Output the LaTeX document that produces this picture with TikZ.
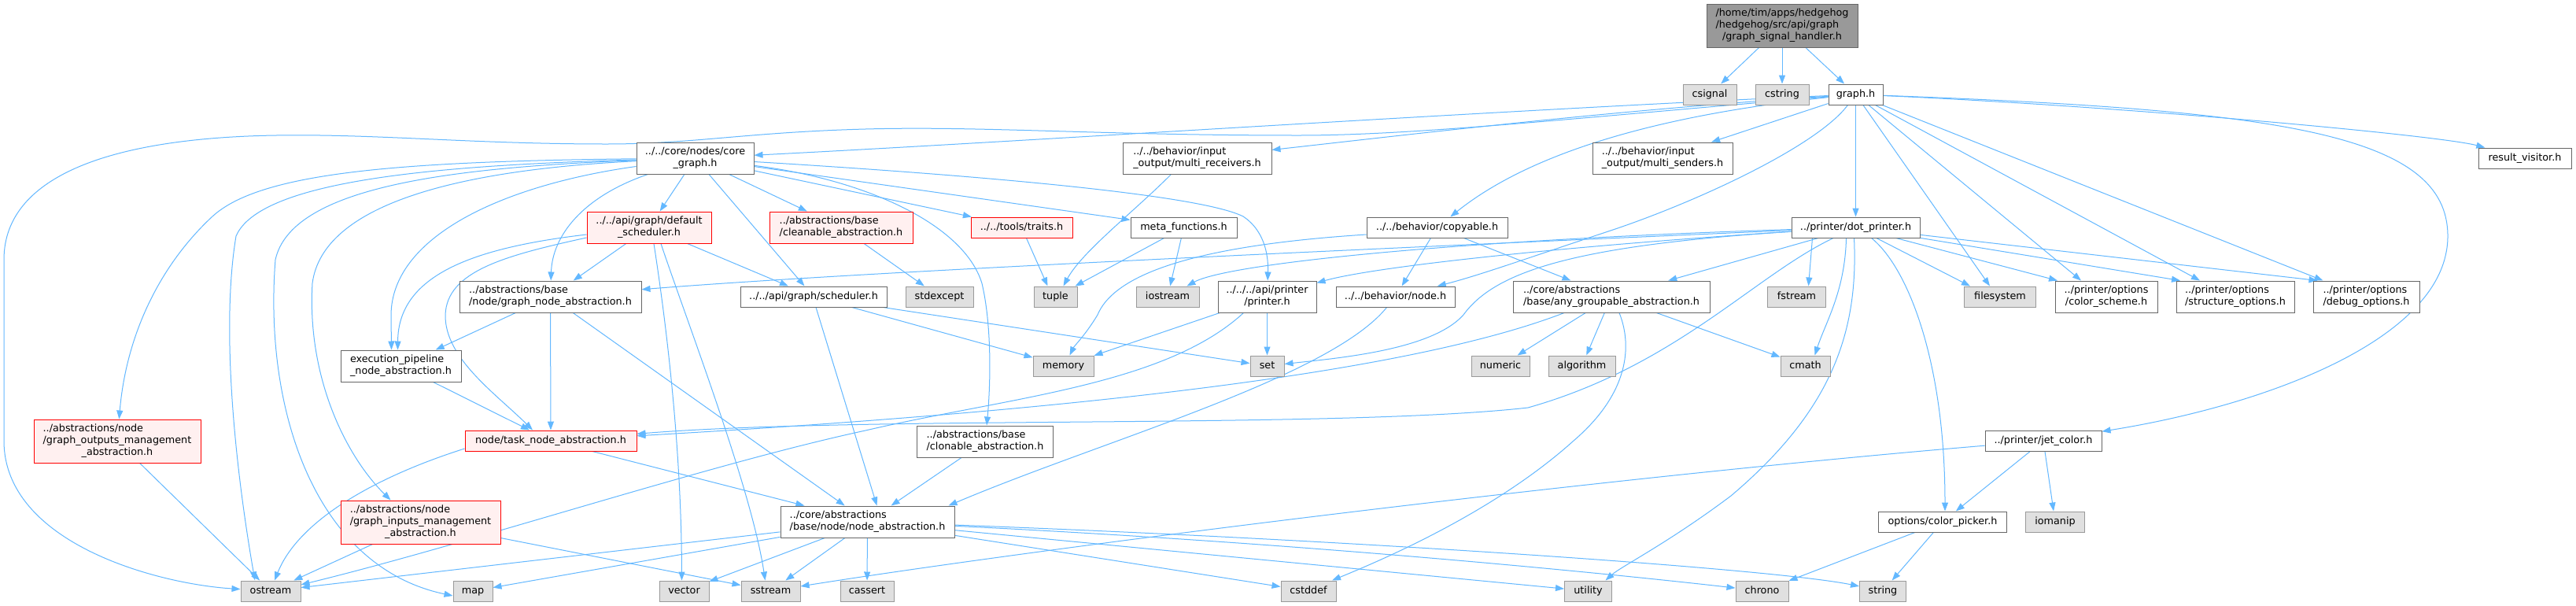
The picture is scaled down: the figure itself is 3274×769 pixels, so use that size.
\documentclass[tikz,border=0pt]{standalone}
\usepackage{fontspec}
\setmainfont{DejaVu Sans}
\usetikzlibrary{arrows.meta}
\pgfdeclarelayer{edgelayer}
\pgfsetlayers{edgelayer,main}
\definecolor{edgec}{HTML}{63B8FF}
\definecolor{greyforty}{HTML}{666666}
\definecolor{greysixty}{HTML}{999999}
\definecolor{greyfill}{HTML}{E0E0E0}
\definecolor{redc}{HTML}{FF0000}
\definecolor{redfill}{HTML}{FFF0F0}
\definecolor{topfill}{HTML}{999999}
\newcommand\labA[1]{\begin{tabular}{@{}c@{}}#1\end{tabular}}
\newcommand\labB[2]{\begin{tabular}{@{}l@{}}#1\\\multicolumn{1}{@{}c@{}}{#2}\end{tabular}}
\newcommand\labC[3]{\begin{tabular}{@{}l@{}}#1\\#2\\\multicolumn{1}{@{}c@{}}{#3}\end{tabular}}
\tikzset{
  nb/.style={draw, rectangle, inner sep=0pt, line width=1pt, font=\fontsize{12.76}{15}\selectfont, text=black},
  wbox/.style={nb, draw=greyforty, fill=white},
  gbox/.style={nb, draw=greysixty, fill=greyfill, minimum height=26pt},
  rbox/.style={nb, draw=redc, fill=redfill},
  topbox/.style={nb, draw=greyforty, fill=topfill},
  hone/.style={minimum height=26pt},
  htwo/.style={minimum height=40pt},
  hthree/.style={minimum height=55pt},
  wd/.style={minimum width=#1pt},
  arr/.style={draw=edgec, line width=1pt, -{Triangle[length=11pt,width=8pt]}}
}
\begin{document}
\begin{tikzpicture}[x=1pt,y=-1pt]
\useasboundingbox (0,0) rectangle (3274,769);
% nodes
\node[topbox,hthree,wd=192] (top) at (2265,32.5) {\labC{/home/tim/apps/hedgehog}{/hedgehog/src/api/graph}{/graph\_signal\_handler.h}};
\node[gbox,wd=68] (csignal) at (2173,120) {\labA{csignal}};
\node[gbox,wd=68] (cstring) at (2265,120) {\labA{cstring}};
\node[wbox,hone,wd=69] (gh) at (2358.5,120) {\labA{graph.h}};
\node[wbox,htwo,wd=149] (core) at (883.5,201) {\labB{../../core/nodes/core}{\_graph.h}};
\node[wbox,htwo,wd=189] (mrecv) at (1521.5,201) {\labB{../../behavior/input}{\_output/multi\_receivers.h}};
\node[wbox,htwo,wd=178] (msend) at (2113,201) {\labB{../../behavior/input}{\_output/multi\_senders.h}};
\node[wbox,hone,wd=118] (rv) at (3209,201) {\labA{result\_visitor.h}};
\node[rbox,htwo,wd=158] (dsched) at (825,289) {\labB{../../api/graph/default}{\_scheduler.h}};
\node[rbox,htwo,wd=182] (clean) at (1069,289) {\labB{../abstractions/base}{/cleanable\_abstraction.h}};
\node[rbox,hone,wd=129] (traits) at (1298.5,289) {\labA{../../tools/traits.h}};
\node[wbox,hone,wd=135] (meta) at (1504.5,289) {\labA{meta\_functions.h}};
\node[wbox,hone,wd=179] (copy) at (1826.5,289) {\labA{../../behavior/copyable.h}};
\node[wbox,hone,wd=163] (dot) at (2358.5,289) {\labA{../printer/dot\_printer.h}};
\node[wbox,htwo,wd=231] (gnode) at (699.5,377) {\labB{../abstractions/base}{/node/graph\_node\_abstraction.h}};
\node[wbox,hone,wd=186] (sched) at (1034,377) {\labA{../../api/graph/scheduler.h}};
\node[gbox,wd=86] (stdexcept) at (1194,377) {\labA{stdexcept}};
\node[gbox,wd=55] (tuple) at (1341.5,377) {\labA{tuple}};
\node[gbox,wd=80] (iostream) at (1484,377) {\labA{iostream}};
\node[wbox,htwo,wd=125] (printer) at (1610.5,377) {\labB{../../../api/printer}{/printer.h}};
\node[wbox,hone,wd=151] (bnode) at (1773.5,377) {\labA{../../behavior/node.h}};
\node[wbox,htwo,wd=250] (anyg) at (2048,377) {\labB{../core/abstractions}{/base/any\_groupable\_abstraction.h}};
\node[gbox,wd=74] (fstream) at (2283.5,377) {\labA{fstream}};
\node[gbox,wd=91] (fs) at (2542,377) {\labA{filesystem}};
\node[wbox,htwo,wd=130] (cs) at (2677,377) {\labB{../printer/options}{/color\_scheme.h}};
\node[wbox,htwo,wd=150] (struct) at (2841,377) {\labB{../printer/options}{/structure\_options.h}};
\node[wbox,htwo,wd=135] (debug) at (3007.5,377) {\labB{../printer/options}{/debug\_options.h}};
\node[wbox,htwo,wd=153] (exec) at (509.5,465) {\labB{execution\_pipeline}{\_node\_abstraction.h}};
\node[gbox,wd=77] (memory) at (1351.5,465) {\labA{memory}};
\node[gbox,wd=43] (set) at (1610.5,465) {\labA{set}};
\node[gbox,wd=74] (numeric) at (1907,465) {\labA{numeric}};
\node[gbox,wd=85] (algorithm) at (2010.5,465) {\labA{algorithm}};
\node[gbox,wd=63] (cmath) at (2294.5,465) {\labA{cmath}};
\node[rbox,hthree,wd=212] (gout) at (149,560.5) {\labC{../abstractions/node}{/graph\_outputs\_management}{\_abstraction.h}};
\node[rbox,hone,wd=218] (task) at (700,560) {\labA{node/task\_node\_abstraction.h}};
\node[wbox,htwo,wd=173] (clon) at (1252,561) {\labB{../abstractions/base}{/clonable\_abstraction.h}};
\node[wbox,hone,wd=148] (jet) at (2597,560) {\labA{../printer/jet\_color.h}};
\node[rbox,hthree,wd=203] (ginp) at (534.5,663.5) {\labC{../abstractions/node}{/graph\_inputs\_management}{\_abstraction.h}};
\node[wbox,htwo,wd=221] (nabs) at (1102.5,663) {\labB{../core/abstractions}{/base/node/node\_abstraction.h}};
\node[wbox,hone,wd=163] (cpick) at (2469,663) {\labA{options/color\_picker.h}};
\node[gbox,wd=75] (iomanip) at (2612,663) {\labA{iomanip}};
\node[gbox,wd=76] (ostream) at (344,751) {\labA{ostream}};
\node[gbox,wd=50] (map) at (601,751) {\labA{map}};
\node[gbox,wd=63] (vector) at (869.5,751) {\labA{vector}};
\node[gbox,wd=75] (sstream) at (979.5,751) {\labA{sstream}};
\node[gbox,wd=68] (cassert) at (1102,751) {\labA{cassert}};
\node[gbox,wd=70] (cstddef) at (1663,751) {\labA{cstddef}};
\node[gbox,wd=60] (utility) at (2018.5,751) {\labA{utility}};
\node[gbox,wd=67] (chrono) at (2239.5,751) {\labA{chrono}};
\node[gbox,wd=59] (string) at (2393,751) {\labA{string}};
% edges
\begin{pgfonlayer}{edgelayer}
\fill[white] (0,0) rectangle (3274,769);
\draw[arr] (top) -- (csignal);
\draw[arr] (top) -- (cstring);
\draw[arr] (top) -- (gh);
% graph.h
\draw[arr] (gh) .. controls (2000,150) and (1800,172) .. (1650,172) .. controls (1400,172) and (1250,160) .. (1100,164) .. controls (950,168) and (880,183) .. (771,183) .. controls (600,183) and (480,170) .. (351,172) .. controls (150,175) and (5,220) .. (5,330) -- (5,560) .. controls (5,690) and (200,742) .. (ostream);
\draw[arr] (gh) .. controls (1900,140) and (1300,180) .. (core);
\draw[arr] (gh) .. controls (2050,140) and (1800,170) .. (mrecv);
\draw[arr] (gh) -- (msend);
\draw[arr] (gh) .. controls (2700,135) and (3100,172) .. (rv);
\draw[arr] (gh) .. controls (2900,140) and (3111,170) .. (3111,300) .. controls (3111,430) and (2880,515) .. (jet);
\draw[arr] (gh) -- (dot);
\draw[arr] (gh) -- ([xshift=-13pt]fs.north);
\draw[arr] (gh) -- ([xshift=-32pt]cs.north);
\draw[arr] (gh) -- ([xshift=-45pt]struct.north);
\draw[arr] (gh) -- ([xshift=-55pt]debug.north);
\draw[arr] (gh) .. controls (2120,145) and (1950,190) .. (copy);
\draw[arr] (gh) .. controls (2310,185) and (2160,255) .. (2050,292) .. controls (1950,325) and (1880,350) .. (bnode);
% core graph
\draw[arr] (core) .. controls (500,205) and (330,220) .. (270,275) .. controls (200,340) and (160,430) .. (gout);
\draw[arr] (core) .. controls (550,210) and (330,230) .. (300,300) .. controls (280,420) and (300,600) .. ([xshift=-20pt]ostream.north);
\draw[arr] (core) .. controls (560,213) and (370,240) .. (350,330) .. controls (335,520) and (400,720) .. ([yshift=-6pt]map.west);
\draw[arr] (core) .. controls (580,216) and (410,260) .. (397,360) .. controls (390,480) and (440,580) .. ([xshift=-38pt]ginp.north);
\draw[arr] (core) .. controls (640,235) and (498,300) .. (497,400) -- ([xshift=-12pt]exec.north);
\draw[arr] (core) .. controls (740,250) and (702,300) .. (gnode);
\draw[arr] (core) -- (dsched);
\draw[arr] (core) -- (sched);
\draw[arr] (core) -- (clean);
\draw[arr] (core) .. controls (1200,220) and (1520,245) .. (1580,275) .. controls (1610,295) and (1612,330) .. (printer);
\draw[arr] (core) .. controls (1100,228) and (1225,285) .. (1248,360) .. controls (1262,420) and (1258,500) .. (clon);
\draw[arr] (core) -- (traits);
\draw[arr] (core) -- (meta);
% default scheduler
\draw[arr] (dsched) -- (gnode);
\draw[arr] (dsched) -- (sched);
\draw[arr] ([xshift=6pt]dsched.south) .. controls (845,400) and (866,560) .. ([xshift=-3pt]vector.north);
\draw[arr] ([xshift=15pt]dsched.south) .. controls (870,400) and (955,620) .. ([xshift=-7pt]sstream.north);
\draw[arr] ([yshift=-9pt]dsched.west) .. controls (600,315) and (506,350) .. ([xshift=-4pt]exec.north);
\draw[arr] ([yshift=-13pt]dsched.west) .. controls (640,325) and (568,345) .. (566,400) .. controls (565,455) and (630,500) .. ([xshift=-23pt]task.north);
% misc
\draw[arr] (clean) -- (stdexcept);
\draw[arr] (traits) -- ([xshift=-10pt]tuple.north);
\draw[arr] (meta) -- (tuple);
\draw[arr] ([xshift=-33pt]mrecv.south) .. controls (1440,270) and (1375,320) .. ([xshift=10pt]tuple.north);
\draw[arr] (meta) -- (iostream);
\draw[arr] ([yshift=-9pt]copy.west) .. controls (1550,310) and (1420,340) .. (1395,400) .. controls (1380,425) and (1365,440) .. ([xshift=8pt]memory.north);
\draw[arr] (copy) -- (bnode);
\draw[arr] (copy) -- (anyg);
% dot printer
\draw[arr] (dot) .. controls (1700,318) and (1100,345) .. (gnode);
\draw[arr] (dot) .. controls (1850,305) and (1560,335) .. (iostream);
\draw[arr] (dot) .. controls (2000,312) and (1750,338) .. (printer);
\draw[arr] (dot) .. controls (2000,312) and (1900,345) .. (1860,400) .. controls (1820,445) and (1700,455) .. (set);
\draw[arr] (dot) -- (anyg);
\draw[arr] (dot) .. controls (2230,350) and (2130,465) .. (1942,518) .. controls (1700,545) and (1100,528) .. (task);
\draw[arr] ([xshift=-55pt]dot.south) -- ([xshift=15pt]fstream.north);
\draw[arr] (dot) -- ([xshift=-38pt]fs.north);
\draw[arr] (dot) -- ([xshift=-62pt]cs.north);
\draw[arr] (dot) -- ([xshift=-70pt]struct.north);
\draw[arr] (dot) -- ([xshift=-62pt]debug.north);
\draw[arr] ([xshift=-12pt]dot.south) .. controls (2345,370) and (2320,410) .. ([xshift=12pt]cmath.north);
\draw[arr] ([xshift=-2pt]dot.south) .. controls (2362,420) and (2330,520) .. (2200,630) .. controls (2120,690) and (2060,720) .. ([xshift=22pt]utility.north);
\draw[arr] ([xshift=20pt]dot.south) .. controls (2425,340) and (2472,460) .. ([xshift=3pt]cpick.north);
% any groupable
\draw[arr] (anyg) -- (numeric);
\draw[arr] (anyg) -- (algorithm);
\draw[arr] (anyg) -- (cmath);
\draw[arr] ([xshift=10pt]anyg.south) .. controls (2075,440) and (2070,500) .. (2000,560) .. controls (1900,650) and (1760,710) .. ([xshift=30pt]cstddef.north);
\draw[arr] ([xshift=-60pt]anyg.south) .. controls (1800,470) and (1400,520) .. (task);
% printer
\draw[arr] (printer) -- (memory);
\draw[arr] (printer) -- (set);
\draw[arr] ([xshift=-30pt]printer.south) .. controls (1480,490) and (1280,505) .. (1100,547) .. controls (900,590) and (600,690) .. ([yshift=8pt]ostream.east);
% node.h, scheduler
\draw[arr] (bnode) .. controls (1690,480) and (1400,560) .. ([xshift=-8pt]nabs.north east);
\draw[arr] ([xshift=3pt]sched.south) -- ([xshift=12pt]nabs.north);
\draw[arr] (sched) -- (memory);
\draw[arr] (sched) -- (set);
% graph node abstraction etc
\draw[arr] (gnode) -- (exec);
\draw[arr] (gnode) -- (task);
\draw[arr] (gnode) -- (nabs);
\draw[arr] (exec) -- (task);
\draw[arr] ([yshift=-10pt]task.west) .. controls (480,605) and (380,660) .. ([xshift=5pt]ostream.north);
\draw[arr] (task) -- (nabs);
\draw[arr] (gout) -- (ostream);
\draw[arr] (ginp) -- (ostream);
\draw[arr] (ginp) -- (sstream);
\draw[arr] (clon) -- (nabs);
% node abstraction
\draw[arr] (nabs) -- (ostream);
\draw[arr] (nabs) -- (map);
\draw[arr] (nabs) -- (vector);
\draw[arr] (nabs) -- (sstream);
\draw[arr] (nabs) -- (cassert);
\draw[arr] (nabs) -- (cstddef);
\draw[arr] (nabs) -- (utility);
\draw[arr] (nabs) .. controls (1700,692) and (2100,735) .. (chrono);
\draw[arr] (nabs) .. controls (1700,685) and (2250,722) .. (string);
% jet color, color picker
\draw[arr] (jet) .. controls (2000,610) and (1300,700) .. (sstream);
\draw[arr] (jet) -- (cpick);
\draw[arr] (jet) -- (iomanip);
\draw[arr] (cpick) -- (chrono);
\draw[arr] (cpick) -- (string);
\end{pgfonlayer}
\end{tikzpicture}
\end{document}
